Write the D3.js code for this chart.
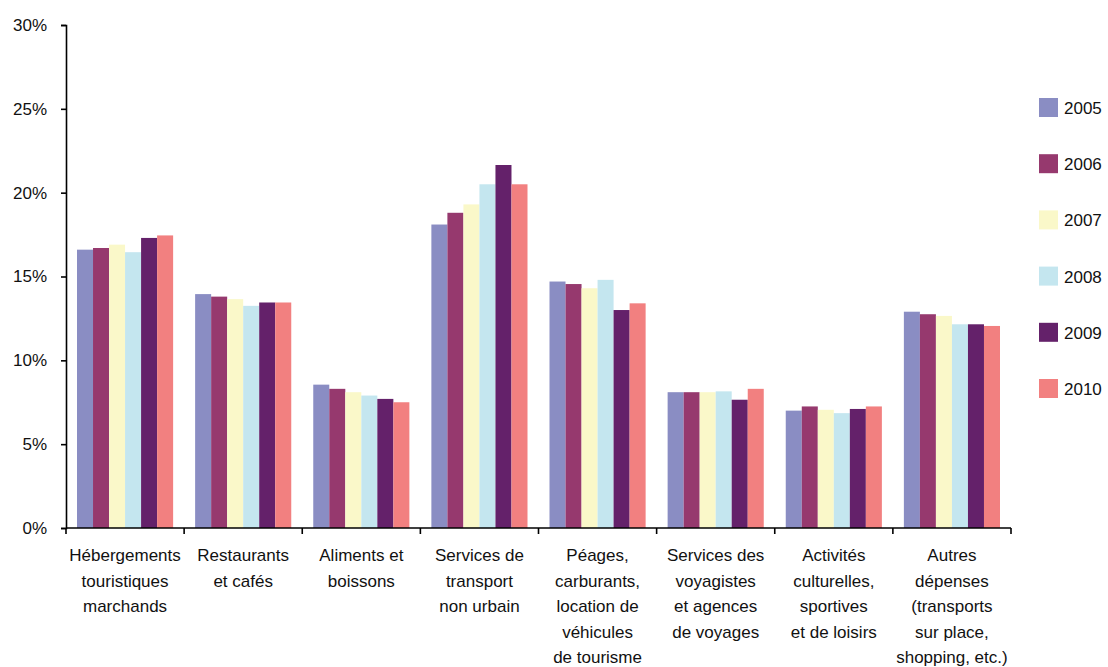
<!DOCTYPE html>
<html>
<head>
<meta charset="utf-8">
<script src="https://cdn.jsdelivr.net/npm/d3@7"></script>
<style>
  html, body { margin: 0; padding: 0; background: #fff; }
  svg { display: block; font-family: "Liberation Sans", Arial, sans-serif; }
</style>
</head>
<body>
<svg id="chart" width="1108" height="667"></svg>
<script>
// Postes de dépenses (libellés répartis sur plusieurs lignes)
const categories = [
  ["Hébergements", "touristiques", "marchands"],
  ["Restaurants", "et cafés"],
  ["Aliments et", "boissons"],
  ["Services de", "transport", "non urbain"],
  ["Péages,", "carburants,", "location de", "véhicules", "de tourisme"],
  ["Services des", "voyagistes", "et agences", "de voyages"],
  ["Activités", "culturelles,", "sportives", "et de loisirs"],
  ["Autres", "dépenses", "(transports", "sur place,", "shopping, etc.)"]
];

const years = ["2005", "2006", "2007", "2008", "2009", "2010"];

// Part de chaque poste dans la dépense (en %), une liste par année
const v2005 = [16.6, 13.95, 8.55, 18.1, 14.7, 8.1, 7.0, 12.9];
const v2006 = [16.7, 13.8, 8.3, 18.8, 14.55, 8.1, 7.25, 12.75];
const v2007 = [16.9, 13.65, 8.1, 19.3, 14.3, 8.1, 7.05, 12.65];
const v2008 = [16.45, 13.25, 7.9, 20.5, 14.8, 8.15, 6.85, 12.15];
const v2009 = [17.3, 13.45, 7.7, 21.65, 13.0, 7.65, 7.1, 12.15];
const v2010 = [17.45, 13.45, 7.5, 20.5, 13.4, 8.3, 7.25, 12.05];
const series = [v2005, v2006, v2007, v2008, v2009, v2010];

const colors = ["#8a8dc3", "#96396e", "#faf8c9", "#c4e6ef", "#64216a", "#f28080"];

const yTicks = [0, 5, 10, 15, 20, 25, 30];

const svg = d3.select("#chart");
const m = { left: 66, right: 1011, top: 25, bottom: 528 };
const fontSize = "17px";

const x0 = d3.scaleBand()
  .domain(d3.range(categories.length))
  .range([m.left, m.right])
  .padding(0);

// Chaque groupe laisse environ 11 px de marge de part et d'autre
const gap = 11;
const x1 = d3.scaleBand()
  .domain(d3.range(years.length))
  .range([gap, x0.bandwidth() - gap])
  .padding(0);

const y = d3.scaleLinear().domain([0, 30]).range([m.bottom, m.top]);

const color = d3.scaleOrdinal().domain(years).range(colors);

// Barres groupées
const groups = svg.append("g")
  .selectAll("g")
  .data(categories.map((c, i) => i))
  .join("g")
  .attr("transform", i => `translate(${x0(i)},0)`);

groups.selectAll("rect")
  .data(i => series.map((s, k) => ({ k, v: s[i] })))
  .join("rect")
  .attr("x", d => x1(d.k))
  .attr("width", x1.bandwidth())
  .attr("y", d => y(d.v))
  .attr("height", d => y(0) - y(d.v))
  .attr("fill", d => color(years[d.k]));

// Axe vertical
const yAxis = svg.append("g")
  .attr("transform", `translate(${m.left},0)`)
  .call(d3.axisLeft(y).tickValues(yTicks).tickFormat(d => d + "%").tickSize(5).tickPadding(14));
yAxis.select(".domain").attr("stroke", "#000").attr("stroke-width", 1.6);
yAxis.selectAll(".tick line").attr("stroke", "#000").attr("stroke-width", 1.6);
yAxis.selectAll(".tick text")
  .attr("fill", "#111")
  .style("font-size", fontSize)
  .style("font-family", "Liberation Sans, Arial, sans-serif");

// Axe horizontal avec graduations entre les groupes
const xAxisG = svg.append("g");
xAxisG.append("line")
  .attr("x1", m.left).attr("x2", m.right)
  .attr("y1", y(0)).attr("y2", y(0))
  .attr("stroke", "#000").attr("stroke-width", 1.6);
xAxisG.selectAll("line.tick")
  .data(d3.range(categories.length + 1))
  .join("line")
  .attr("class", "tick")
  .attr("x1", i => i < categories.length ? x0(i) : m.right)
  .attr("x2", i => i < categories.length ? x0(i) : m.right)
  .attr("y1", y(0)).attr("y2", y(0) + 6)
  .attr("stroke", "#000").attr("stroke-width", 1.6);

const labels = xAxisG.selectAll("text.cat")
  .data(categories)
  .join("text")
  .attr("class", "cat")
  .attr("text-anchor", "middle")
  .attr("fill", "#111")
  .style("font-size", fontSize);
labels.selectAll("tspan")
  .data((lines, i) => lines.map(l => ({ l, i })))
  .join("tspan")
  .attr("x", d => x0(d.i) + x0.bandwidth() / 2)
  .attr("y", (d, j) => 561 + j * 25.5)
  .text(d => d.l);

// Légende
const legend = svg.append("g")
  .selectAll("g")
  .data(years)
  .join("g")
  .attr("transform", (d, i) => `translate(1039,${98 + i * 56.2})`);
legend.append("rect")
  .attr("width", 19).attr("height", 19)
  .attr("fill", d => color(d));
legend.append("text")
  .attr("x", 25).attr("y", 16)
  .attr("fill", "#111")
  .style("font-size", fontSize)
  .text(d => d);
</script>
</body>
</html>
